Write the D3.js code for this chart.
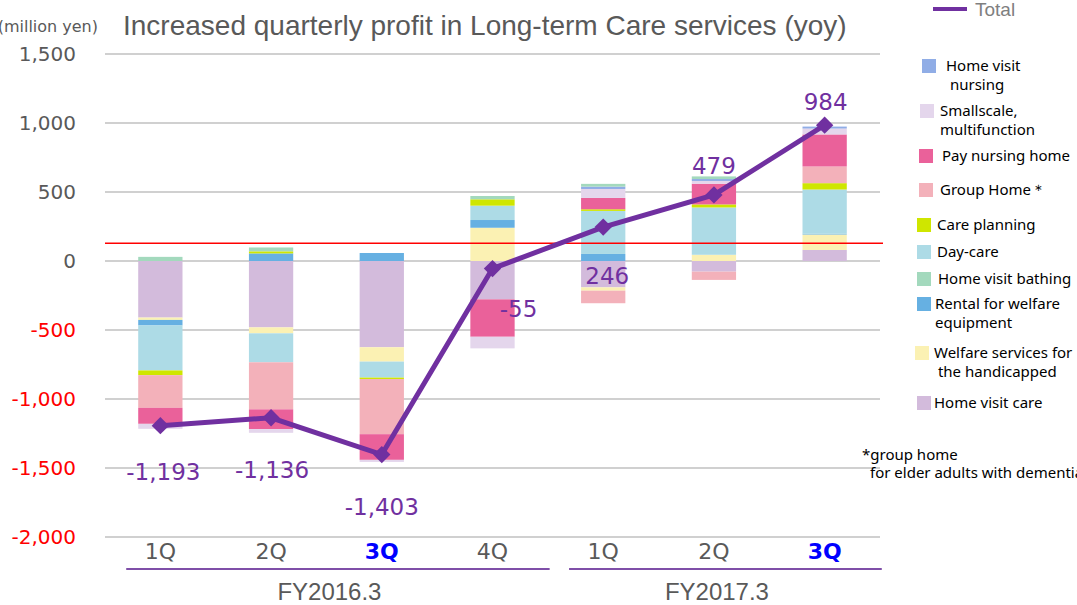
<!DOCTYPE html>
<html>
<head>
<meta charset="utf-8">
<script src="https://cdn.jsdelivr.net/npm/d3@7"></script>
<style>
  body { margin: 0; background: #fff; }
  svg { font-family: 'DejaVu Sans', 'Noto Sans', sans-serif; }
</style>
</head>
<body>
<script>
// quarters and fiscal year groups
const quarters = ['1Q', '2Q', '3Q', '4Q', '1Q', '2Q', '3Q']
const boldQuarters = [2, 6]
const fiscalYears = [
  { label: 'FY2016.3', from: 0, to: 3 },
  { label: 'FY2017.3', from: 4, to: 6 }
]

// series values (million yen), stack order bottom-up
const homeVisitCare = [-410, -481, -625, -278, -191, -77, 80]
const welfare = [-17, -43, -104, 241, -24, 45, 112]
const rental = [-40, 55, 58, 56, 51, 0, 5]
const dayCare = [-326, -210, -116, 104, 312, 343, 321]
const carePlanning = [-34, 15, -10, 46, 12, 22, 46]
const groupHome = [-237, -341, -400, 0, -91, -60, 121]
const payNursing = [-116, -143, -186, -271, 82, 150, 232]
const smallscale = [-36, -27, -15, -84, 65, 20, 43]
const homeVisitNursing = [0, 0, 0, 0, 17, 14, 14]
const bathing = [30, 28, 0, 24, 20, 19, 0]
const total = [-1193, -1136, -1403, -55, 246, 479, 984]

const yTicks = [1500, 1000, 500, 0, -500, -1000, -1500, -2000]
const refValue = 128

const series = [
  { key: 'homeVisitCare', name: ['Home visit care'], values: homeVisitCare, color: '#d3bbdc' },
  { key: 'welfare', name: ['Welfare services for', ' the handicapped'], values: welfare, color: '#fbf1b3' },
  { key: 'rental', name: ['Rental for welfare', 'equipment'], values: rental, color: '#66b0e2' },
  { key: 'dayCare', name: ['Day-care'], values: dayCare, color: '#addbe6' },
  { key: 'carePlanning', name: ['Care planning'], values: carePlanning, color: '#cfe600' },
  { key: 'groupHome', name: ['Group Home\uff0a'], values: groupHome, color: '#f3b1ba' },
  { key: 'payNursing', name: ['Pay nursing home'], values: payNursing, color: '#ea619a' },
  { key: 'smallscale', name: ['Smallscale,', 'multifunction'], values: smallscale, color: '#e4d6ec' },
  { key: 'homeVisitNursing', name: ['Home visit', ' nursing'], values: homeVisitNursing, color: '#90ade6' },
  { key: 'bathing', name: ['Home visit bathing'], values: bathing, color: '#a3d9bd' }
]
const legendOrder = ['homeVisitNursing', 'smallscale', 'payNursing', 'groupHome', 'carePlanning',
  'dayCare', 'bathing', 'rental', 'welfare', 'homeVisitCare']
// legend item layout: swatch x, text x, y
const legendPos = [[922, 946, 66], [920, 940, 111], [919, 942, 156], [919, 940, 190], [917, 937, 225],
  [917, 937, 252], [917, 938, 279], [917, 935, 304], [915, 934, 353], [917, 934, 403]]

const width = 1077
const height = 605
const left = 105
const right = 880
const purple = '#7030a0'
const fmt = d3.formatLocale({ decimal: '.', thousands: ',', grouping: [3], currency: ['', ''], minus: '-' }).format(',')

const table = quarters.map((q, i) => {
  const row = { i }
  series.forEach(s => { row[s.key] = s.values[i] })
  return row
})

const stack = d3.stack()
  .keys(series.map(s => s.key))
  .offset(d3.stackOffsetDiverging)
const stacked = stack(table)

const x = d3.scaleBand()
  .domain(d3.range(quarters.length))
  .range([left, right])
  .paddingInner(0.6)
  .paddingOuter(0.3)

const y = d3.scaleLinear()
  .domain([-2000, 1500])
  .range([537, 54])

const svg = d3.select('body')
  .append('svg')
  .attr('width', width)
  .attr('height', height)

// grid
svg.append('g')
  .selectAll('line')
  .data(yTicks)
  .enter()
  .append('line')
  .attr('x1', left)
  .attr('x2', right)
  .attr('y1', d => y(d))
  .attr('y2', d => y(d))
  .attr('stroke', '#c0c0c0')
  .attr('stroke-width', 1.5)

svg.append('g')
  .selectAll('text')
  .data(yTicks)
  .enter()
  .append('text')
  .attr('x', 76)
  .attr('y', d => y(d) + 7)
  .attr('text-anchor', 'end')
  .attr('font-size', 20)
  .attr('fill', d => d < 0 ? '#ff0000' : '#595959')
  .text(d => fmt(d))

svg.append('text')
  .attr('x', 98)
  .attr('y', 32)
  .attr('text-anchor', 'end')
  .attr('font-size', 16)
  .attr('fill', '#595959')
  .text('(million yen)')

svg.append('text')
  .attr('x', 123)
  .attr('y', 35)
  .attr('font-family', 'Liberation Sans, Arial, sans-serif')
  .attr('font-size', 28)
  .attr('fill', '#595959')
  .text('Increased quarterly profit in Long-term Care services (yoy)')

// bars
svg.append('g')
  .selectAll('g')
  .data(stacked)
  .enter()
  .append('g')
  .attr('fill', (d, i) => series[i].color)
  .selectAll('rect')
  .data(d => d)
  .enter()
  .append('rect')
  .attr('x', (d, i) => x(i))
  .attr('width', x.bandwidth())
  .attr('y', d => y(Math.max(d[0], d[1])))
  .attr('height', d => Math.abs(y(d[0]) - y(d[1])))

// reference line
svg.append('line')
  .attr('x1', left)
  .attr('x2', 883)
  .attr('y1', y(refValue))
  .attr('y2', y(refValue))
  .attr('stroke', '#ff0000')
  .attr('stroke-width', 1.5)

// total line
const cx = i => x(i) + x.bandwidth() / 2
const line = d3.line()
  .x((d, i) => cx(i))
  .y(d => y(d))

svg.append('path')
  .datum(total)
  .attr('d', line)
  .attr('fill', 'none')
  .attr('stroke', purple)
  .attr('stroke-width', 5)

svg.append('g')
  .selectAll('path')
  .data(total)
  .enter()
  .append('path')
  .attr('d', d3.symbol(d3.symbolSquare, 150))
  .attr('transform', (d, i) => 'translate(' + cx(i) + ',' + y(d) + ') rotate(45)')
  .attr('fill', purple)

const labelOffset = [[3, 54], [1, 60], [0, 60], [26, 48], [4, 57], [0, -21], [1, -15]]
svg.append('g')
  .selectAll('text')
  .data(total)
  .enter()
  .append('text')
  .attr('x', (d, i) => cx(i) + labelOffset[i][0])
  .attr('y', (d, i) => y(d) + labelOffset[i][1])
  .attr('text-anchor', 'middle')
  .attr('font-size', 23)
  .attr('fill', purple)
  .text(d => fmt(d))

// x labels
svg.append('g')
  .selectAll('text')
  .data(quarters)
  .enter()
  .append('text')
  .attr('x', (d, i) => cx(i))
  .attr('y', 559)
  .attr('text-anchor', 'middle')
  .attr('font-size', 22)
  .attr('font-weight', (d, i) => boldQuarters.includes(i) ? 'bold' : 'normal')
  .attr('fill', (d, i) => boldQuarters.includes(i) ? '#0000ff' : '#595959')
  .text(d => d)

const fy = svg.append('g')
fy.selectAll('line')
  .data(fiscalYears)
  .enter()
  .append('line')
  .attr('x1', d => x(d.from) - 12)
  .attr('x2', d => x(d.to) + x.bandwidth() + 35)
  .attr('y1', 569)
  .attr('y2', 569)
  .attr('stroke', '#7f4fa8')
  .attr('stroke-width', 2)
fy.selectAll('text')
  .data(fiscalYears)
  .enter()
  .append('text')
  .attr('x', d => (cx(d.from) + cx(d.to)) / 2 + 3)
  .attr('y', 600)
  .attr('text-anchor', 'middle')
  .attr('font-family', 'Liberation Sans, Arial, sans-serif')
  .attr('font-size', 24)
  .attr('fill', '#595959')
  .text(d => d.label)

// legend
svg.append('line')
  .attr('x1', 933).attr('x2', 967)
  .attr('y1', 9).attr('y2', 9)
  .attr('stroke', purple)
  .attr('stroke-width', 4)
svg.append('text')
  .attr('x', 975)
  .attr('y', 16)
  .attr('font-family', 'Liberation Sans, Arial, sans-serif')
  .attr('font-size', 19)
  .attr('fill', '#7f7f7f')
  .text('Total')

const legend = svg.append('g')
  .selectAll('g')
  .data(legendOrder.map(k => series.find(s => s.key === k)))
  .enter()
  .append('g')
  .attr('transform', (d, i) => 'translate(0,' + legendPos[i][2] + ')')
legend.append('rect')
  .attr('x', (d, i) => legendPos[i][0])
  .attr('y', -7)
  .attr('width', 14)
  .attr('height', 14)
  .attr('fill', d => d.color)
legend.each(function (d, i) {
  d3.select(this).append('text')
    .attr('y', 5)
    .attr('font-family', 'Noto Sans, sans-serif')
    .attr('font-size', 15)
    .attr('fill', '#000')
    .selectAll('tspan')
    .data(d.name)
    .enter()
    .append('tspan')
    .attr('x', legendPos[i][1])
    .attr('dy', (t, j) => j ? 19 : 0)
    .text(t => t)
})

svg.append('text')
  .attr('x', 862)
  .attr('y', 460)
  .attr('font-family', 'Noto Sans, sans-serif')
  .attr('font-size', 15)
  .attr('fill', '#000')
  .text('*group home')
svg.append('text')
  .attr('x', 870)
  .attr('y', 478)
  .attr('font-family', 'Noto Sans, sans-serif')
  .attr('font-size', 15)
  .attr('fill', '#000')
  .text('for elder adults with dementia')
</script>
</body>
</html>
